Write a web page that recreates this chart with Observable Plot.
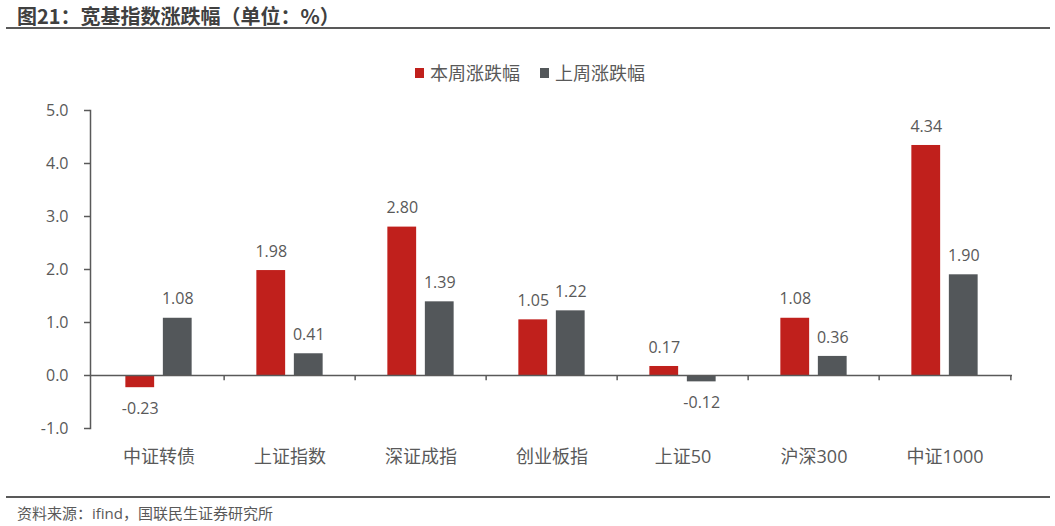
<!DOCTYPE html>
<html><head><meta charset="utf-8">
<script src="https://cdn.jsdelivr.net/npm/d3@7"></script>
<script src="https://cdn.jsdelivr.net/npm/@observablehq/plot@0.6"></script>
<style>
body{margin:0;background:#fff;font-family:"Open Sans","Noto Sans CJK SC",sans-serif;}
#wrap{position:relative;width:1055px;height:526px;overflow:hidden;}
#title{position:absolute;left:17px;top:1px;font-size:20px;font-weight:bold;color:#404040;font-family:"Noto Sans CJK SC",sans-serif;line-height:30px;}
#title .n{font-family:"Open Sans",sans-serif;}
#tline{position:absolute;left:6px;top:27px;width:1044px;height:2px;background:#595959;}
#legend{position:absolute;left:415px;top:58px;font-size:18px;color:#595959;white-space:nowrap;line-height:26px;}
#legend span.it{display:inline-flex;align-items:center;margin-right:20px;}
#legend i{display:inline-block;width:9px;height:10px;margin-right:6px;}
#chart{position:absolute;left:0;top:90px;}
#fline{position:absolute;left:6px;top:496px;width:1044px;height:2px;background:#595959;}
#foot{position:absolute;left:17px;top:501px;font-size:15px;color:#595959;line-height:24px;}
</style></head>
<body><div id="wrap">
<div id="title"></div><div id="tline"></div>
<div id="legend"></div>
<div id="chart"></div>
<div id="fline"></div><div id="foot"></div>
</div>
<script>
const titleText = "图21：宽基指数涨跌幅（单位：%）";
const footText = "资料来源：ifind，国联民生证券研究所";
const categories = ["中证转债","上证指数","深证成指","创业板指","上证50","沪深300","中证1000"];
const seriesNames = ["本周涨跌幅","上周涨跌幅"];
const thisWeek = [-0.23, 1.98, 2.80, 1.05, 0.17, 1.08, 4.34];
const lastWeek = [1.08, 0.41, 1.39, 1.22, -0.12, 0.36, 1.90];
const yTicks = [-1, 0, 1, 2, 3, 4, 5];
const colors = ["#C0201C", "#53575A"];

document.getElementById("title").textContent = titleText;
document.getElementById("foot").textContent = footText;
document.getElementById("legend").innerHTML = seriesNames.map((s,i)=>`<span class="it"><i style="background:${colors[i]}"></i>${s}</span>`).join("");

const data = [];
categories.forEach((c,i)=>{
  data.push({cat:c, series:seriesNames[0], v:thisWeek[i]});
  data.push({cat:c, series:seriesNames[1], v:lastWeek[i]});
});

const W = 1055, H = 390, mL = 90, mR = 43;
const band = (W - mL - mR) / categories.length;
const barW = 29.5, gap = 8;
const inset = (band - barW) / 2;
const off = (barW + gap) / 2;
const dxFor = s => s === seriesNames[0] ? -off : off;

const bounds = categories.slice(1).map(c=>({cat:c, d:-band/2})).concat([{cat:categories[categories.length-1], d:band/2}]);

const marks = [];
seriesNames.forEach((s,i)=>{
  const sub = data.filter(d=>d.series===s);
  marks.push(Plot.barY(sub, {x:"cat", y:"v", fill:colors[i], insetLeft:inset, insetRight:inset, dx:dxFor(s)}));
  marks.push(Plot.text(sub.filter(d=>d.v>=0), {x:"cat", y:"v", text:d=>d.v.toFixed(2), dx:dxFor(s), dy:-19, fill:"#595959", fontSize:16}));
  marks.push(Plot.text(sub.filter(d=>d.v<0), {x:"cat", y:"v", text:d=>d.v.toFixed(2), dx:dxFor(s), dy:21, fill:"#595959", fontSize:16}));
});

const chart = Plot.plot({
  width: W, height: H,
  marginLeft: mL, marginRight: mR, marginTop: 20, marginBottom: 52,
  style: {fontFamily: '"Open Sans","Noto Sans CJK SC",sans-serif', fontSize: "16px", color: "#595959", background:"#fff"},
  x: {domain: categories, padding: 0, label: null},
  y: {domain: [-1, 5], ticks: yTicks, label: null},
  marks: [
    Plot.axisY({ticks: yTicks, tickFormat: d=>d.toFixed(1), tickSize: 6, tickPadding: 16, stroke:"#595959", strokeWidth:1.5, fill:"#595959", fontSize:16, label:null}),
    Plot.axisX({tickSize: 0, tickPadding: 22, fontSize: 18, fill:"#595959", label:null}),
    ...marks,
    Plot.frame({anchor:"left", stroke:"#595959", strokeWidth:1.5}),
    Plot.ruleY([0], {stroke:"#595959", strokeWidth:1.5}),
    Plot.ruleX(bounds, {x:"cat", y1:0, y2:-0.1, stroke:"#595959", strokeWidth:1.5, render:(index, scales, values, dims, ctx, next)=>{
      const g = next(index, scales, values, dims, ctx);
      d3.select(g).selectAll("line").attr("transform", (_, j)=>`translate(${bounds[index[j]].d},0)`);
      return g;
    }})
  ]
});
document.getElementById("chart").appendChild(chart);
</script>
</body></html>
